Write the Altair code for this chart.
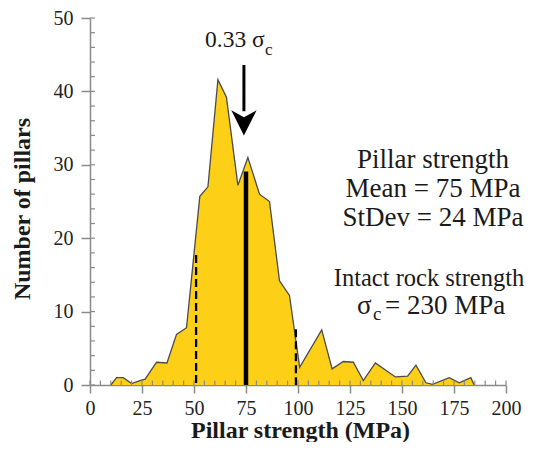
import altair as alt
import pandas as pd

# ---- data ----
strength = [10, 12.8, 16, 20, 24, 26.5, 32, 37, 41.6, 46.4, 52.8, 56.7, 61.5, 65.6, 71.1,
            75.9, 81.5, 86.3, 91.1, 95.9, 100.8, 111.4, 116.4, 121.8, 126.6, 131.4, 137.2,
            146.8, 152.7, 156.7, 161.5, 164.7, 172.7, 177.5, 183.1, 184.7]
pillars = [0, 1.0, 1.0, 0.2, 0.6, 0.8, 3.1, 3.0, 6.9, 7.8, 25.7, 27.0, 41.6, 39.2, 27.2,
           31.0, 26.0, 25.0, 14.2, 12.2, 2.4, 7.5, 2.2, 3.2, 3.1, 0.6, 3.0,
           1.1, 1.2, 2.7, 0.3, 0.1, 1.0, 0.3, 1.0, 0]

x_ticks = [0, 25, 50, 75, 100, 125, 150, 175, 200]
y_ticks = [0, 10, 20, 30, 40, 50]
x_minor = list(range(0, 201, 5))
y_minor = list(range(0, 51, 2))

mean_val = 75
sd_val = 24
dash_x = [51, 99]
dash_h = [17.7, 7.6]
mean_h = [29.1]
arrow_x = 74
arrow_top = 43.6
arrow_base = 37.3
arrow_head = 35.7

FONT = "Liberation Serif"
GRAY = "#8a8a8a"

xs = alt.Scale(domain=[0, 200], nice=False, zero=False)
ys = alt.Scale(domain=[0, 50], nice=False, zero=False)

x_axis = alt.Axis(values=x_ticks, title="Pillar strength (MPa)", tickSize=8, labelPadding=5,
                  labelFlush=False, titleX=210, titleY=52, titleBaseline="alphabetic")
y_axis = alt.Axis(values=y_ticks, title="Number of pillars", tickSize=9, labelPadding=8,
                  labelFlush=False, titleX=-60.5, titleY=190.5, titleBaseline="alphabetic",
                  titleAngle=270)


def X(field):
    return alt.X(field, scale=xs, axis=x_axis, title="Pillar strength (MPa)")


def Y(field):
    return alt.Y(field, scale=ys, axis=y_axis, title="Number of pillars")


df = pd.DataFrame({"s": strength, "n": pillars})

area = alt.Chart(df).mark_area(
    color="#FDD017", opacity=1, interpolate="linear",
    line={"color": "#4a4a4a", "strokeWidth": 1.3}
).encode(x=X("s:Q"), y=Y("n:Q"))

one = pd.DataFrame({"a": [0]})

xminor = alt.Chart(pd.DataFrame({"v": x_minor})).mark_rule(color=GRAY, strokeWidth=1.2).encode(
    x=X("v:Q"), y=alt.value(367), y2=alt.value(362.5))
yminor = alt.Chart(pd.DataFrame({"v": y_minor})).mark_rule(color=GRAY, strokeWidth=1.2).encode(
    y=Y("v:Q"), x=alt.value(0), x2=alt.value(5))

dashed = alt.Chart(pd.DataFrame({"x": dash_x, "h": dash_h})).mark_rule(
    color="black", strokeWidth=2.3, strokeDash=[8, 4]).encode(
    x=X("x:Q"), y=Y("h:Q"), y2=alt.datum(0))
solid = alt.Chart(pd.DataFrame({"x": [mean_val], "h": mean_h})).mark_rule(
    color="black", strokeWidth=4.5).encode(
    x=X("x:Q"), y=Y("h:Q"), y2=alt.datum(0))

arrow_df = pd.DataFrame({"x": [arrow_x], "top": [arrow_top], "base": [arrow_base],
                         "head": [arrow_head]})
shaft = alt.Chart(arrow_df).mark_rule(color="black", strokeWidth=3).encode(
    x=X("x:Q"), y=Y("top:Q"), y2="base:Q")
head = alt.Chart(arrow_df).mark_point(
    shape="M0,1 L-1,-1 L0,-0.45 L1,-1 Z", filled=True, size=640, color="black", opacity=1,
    strokeWidth=0).encode(x=X("x:Q"), y=Y("head:Q"))


def txt(t, px, py, size=27, align="center"):
    return alt.Chart(one).mark_text(
        text=t, font=FONT, fontSize=size, color="#1a1a1a", align=align, baseline="alphabetic"
    ).encode(x=alt.value(px), y=alt.value(py))


texts = [
    txt("0.33 σ", 115, 28.7, 23.5, "left"),
    txt("c", 175, 36.5, 17, "left"),
    txt("Pillar strength", 343, 150.3),
    txt("Mean = 75 MPa", 343, 179.3),
    txt("StDev = 24 MPa", 343, 208),
    txt("Intact rock strength", 339, 267.5, 24.5),
    txt("σ", 267, 295.7, 27, "left"),
    txt("c", 283, 302, 19, "left"),
    txt("= 230 MPa", 295, 295.7, 27, "left"),
]

chart = alt.layer(area, xminor, yminor, dashed, solid, shaft, head, *texts).properties(
    width=416, height=367, autosize="none",
    padding={"left": 82, "top": 10, "right": 19, "bottom": 57},
    background="white",
).configure_view(stroke=None).configure_axis(
    grid=False, domainColor=GRAY, domainWidth=1.5, tickColor=GRAY, tickWidth=1.5,
    labelFont=FONT, labelFontSize=20, labelColor="#222",
    titleFont=FONT, titleFontSize=24, titleFontWeight="bold", titleColor="#1a1a1a",
)

chart.save("out.html", embed_options={"renderer": "svg", "actions": False})
